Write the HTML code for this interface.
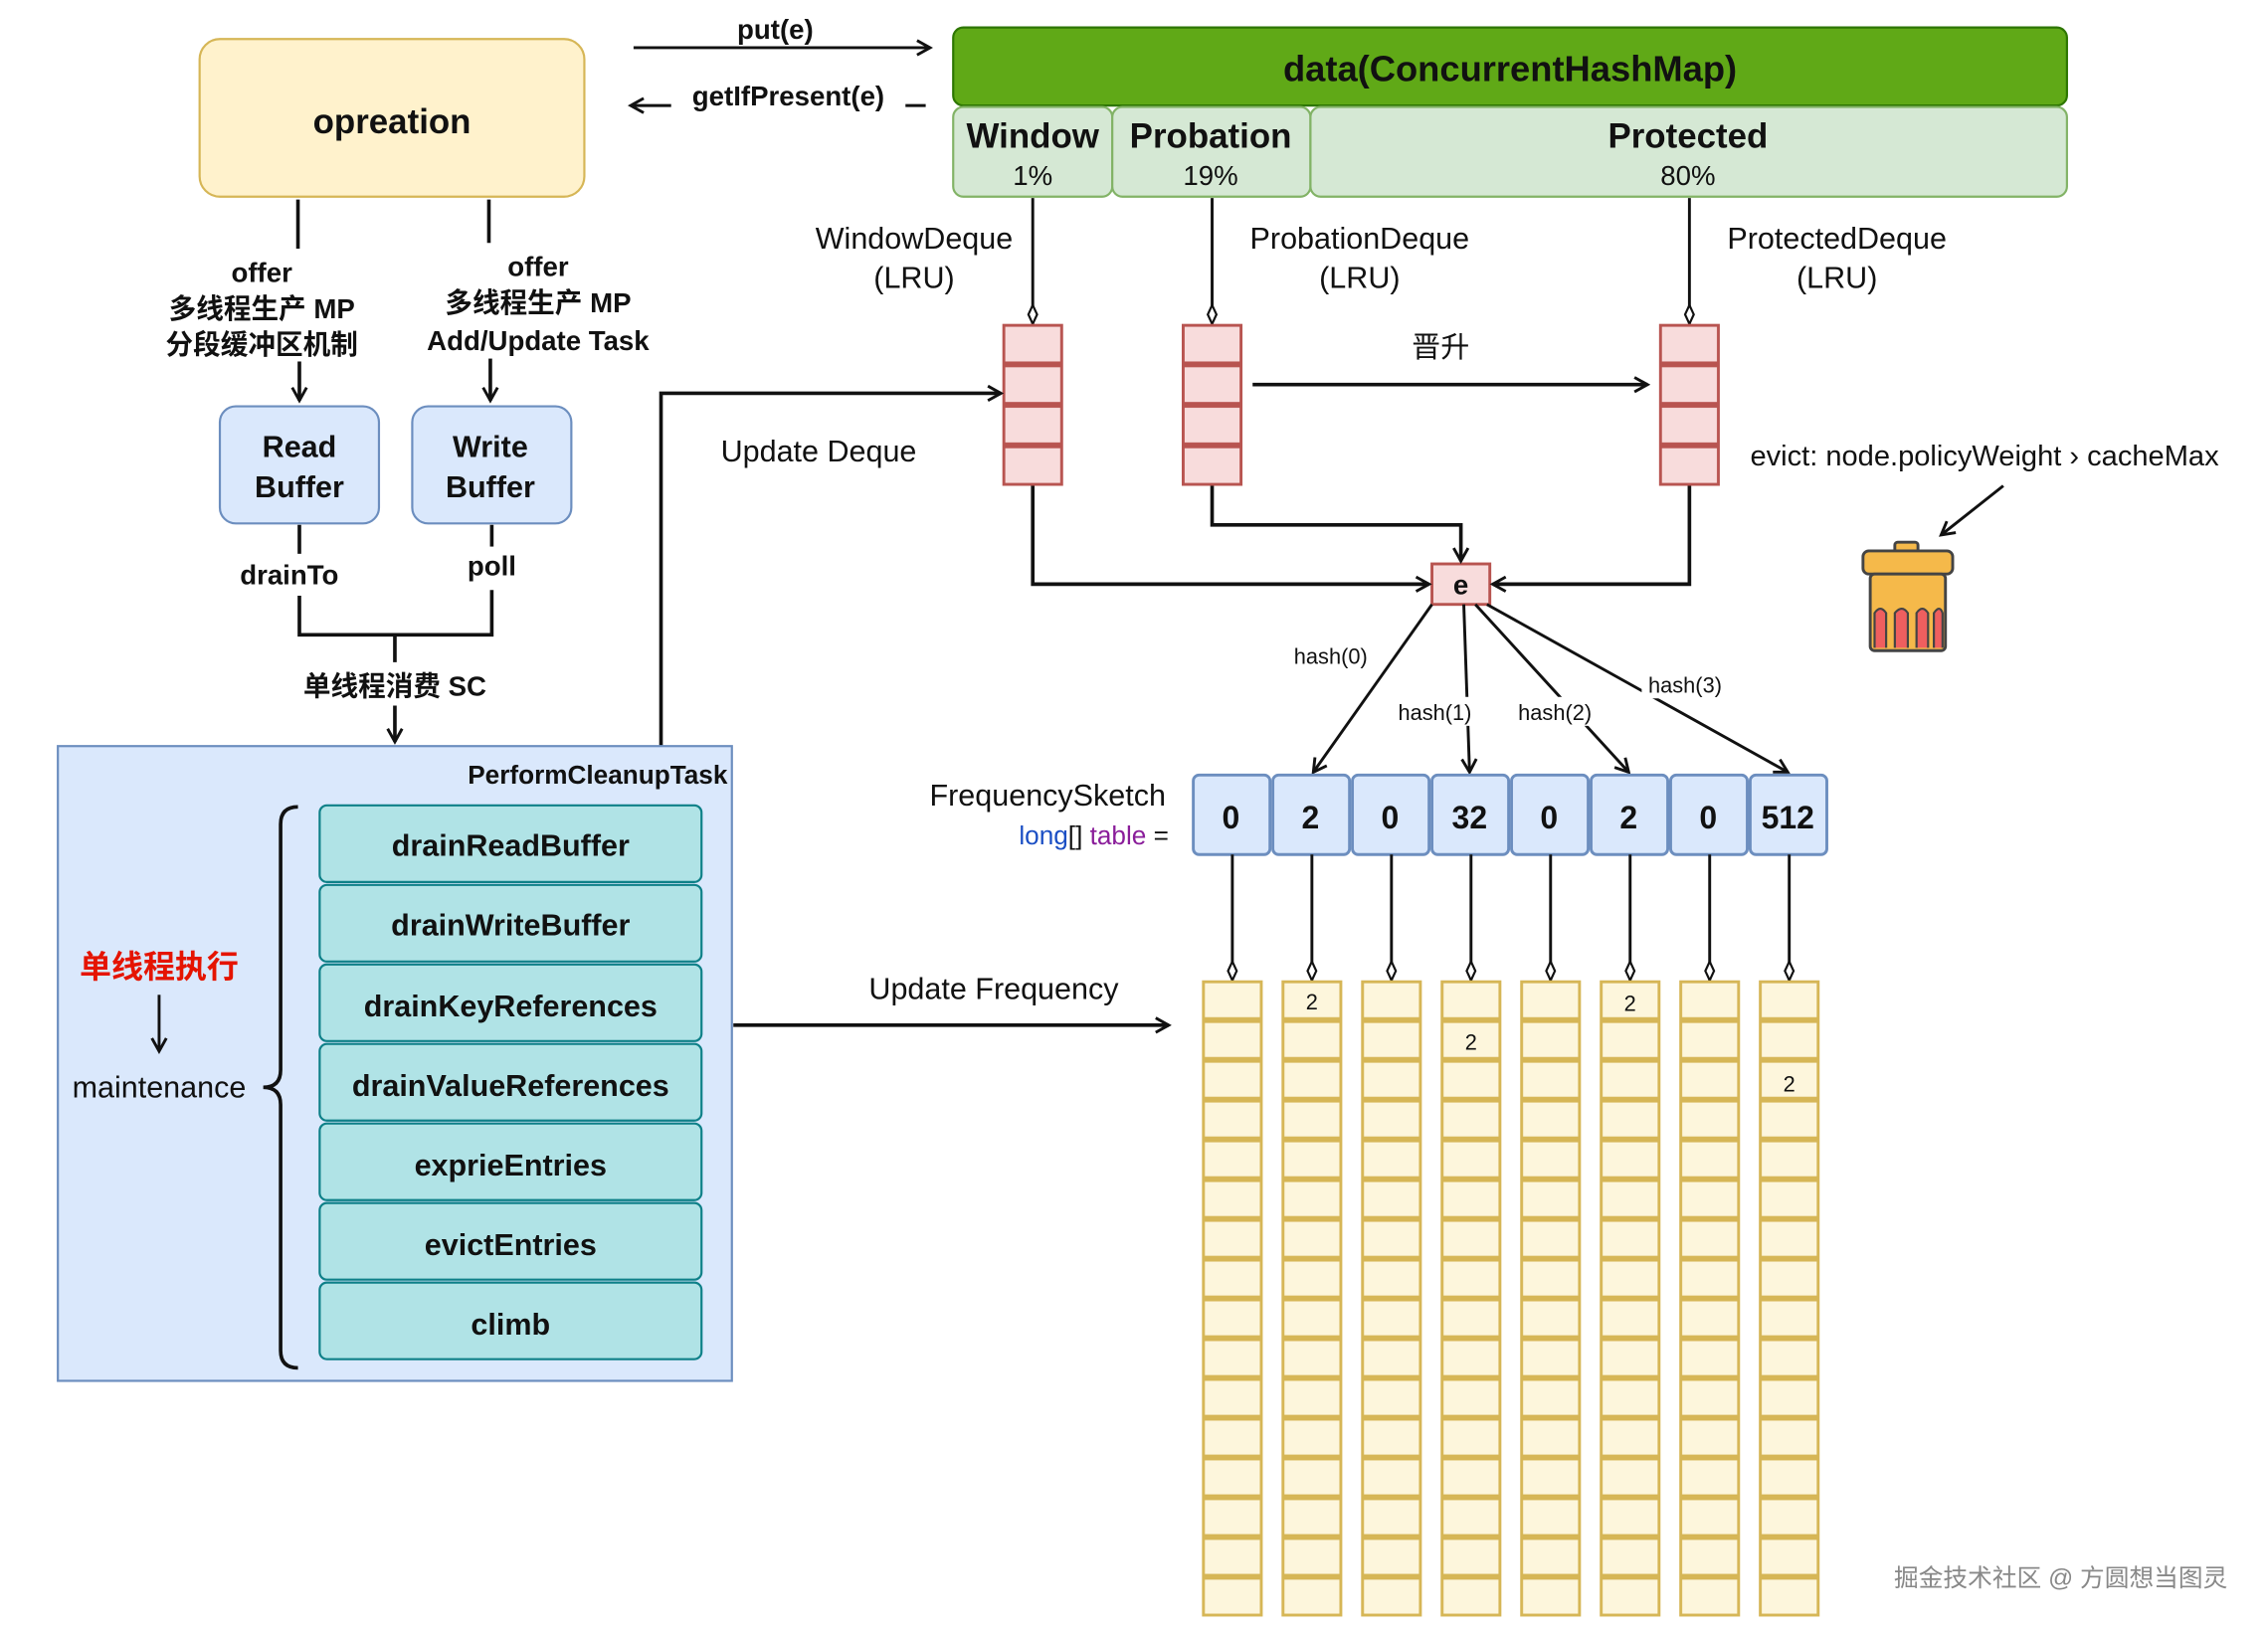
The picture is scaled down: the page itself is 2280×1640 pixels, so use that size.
<!DOCTYPE html>
<html><head><meta charset="utf-8"><style>
html,body{margin:0;padding:0;background:#fff}
svg{display:block}
text{font-family:"Liberation Sans","Noto Sans CJK SC",sans-serif;fill:#111}
.b{font-weight:bold}
</style></head><body>
<svg width="2280" height="1640" viewBox="0 0 1568 1128" preserveAspectRatio="none" xmlns="http://www.w3.org/2000/svg">
<defs>
<marker id="a" markerWidth="12" markerHeight="12" refX="10" refY="6" orient="auto" markerUnits="userSpaceOnUse"><path d="M1,1 L10,6 L1,11" fill="none" stroke="#111" stroke-width="2"/></marker>
<marker id="d" markerWidth="15" markerHeight="9" refX="14" refY="4.5" orient="auto" markerUnits="userSpaceOnUse"><path d="M1,4.5 L7.5,1.5 L14,4.5 L7.5,7.5Z" fill="#fff" stroke="#111" stroke-width="1.5"/></marker>
<pattern id="yg" x="0" y="0" width="42" height="27.5" patternUnits="userSpaceOnUse"><rect x="1" y="1" width="40" height="25.5" fill="#fdf6dc" stroke="#d6b656" stroke-width="2"/></pattern>
<pattern id="rg" x="0" y="0" width="42" height="28" patternUnits="userSpaceOnUse"><rect x="1" y="1" width="40" height="26" fill="#f8dcdc" stroke="#b85450" stroke-width="2"/></pattern>
</defs>

<rect x="138" y="27" width="266" height="109" rx="14" fill="#fff2cc" stroke="#d6b656" stroke-width="1.5"/>
<text x="271" y="92" font-size="24" text-anchor="middle" class="b">opreation</text>

<line x1="438" y1="33" x2="643" y2="33" stroke="#111" stroke-width="2" marker-end="url(#a)"/>
<text x="536" y="27" font-size="19" text-anchor="middle" class="b">put(e)</text>
<line x1="640" y1="73" x2="436" y2="73" stroke="#111" stroke-width="2" marker-end="url(#a)"/>
<rect x="464" y="55" width="162" height="20" fill="#fff"/>
<text x="545" y="73" font-size="19" text-anchor="middle" class="b">getIfPresent(e)</text>

<rect x="659" y="19" width="770" height="54" rx="7" fill="#60a917" stroke="#2d7600" stroke-width="1.5"/>
<text x="1044" y="56" font-size="25" text-anchor="middle" class="b">data(ConcurrentHashMap)</text>
<rect x="659" y="74" width="110" height="62" rx="7" fill="#d5e8d4" stroke="#82b366" stroke-width="1.5"/>
<rect x="769" y="74" width="137" height="62" rx="7" fill="#d5e8d4" stroke="#82b366" stroke-width="1.5"/>
<rect x="906" y="74" width="523" height="62" rx="7" fill="#d5e8d4" stroke="#82b366" stroke-width="1.5"/>
<text x="714" y="102" font-size="24" text-anchor="middle" class="b">Window</text>
<text x="714" y="128" font-size="19" text-anchor="middle">1%</text>
<text x="837" y="102" font-size="24" text-anchor="middle" class="b">Probation</text>
<text x="837" y="128" font-size="19" text-anchor="middle">19%</text>
<text x="1167" y="102" font-size="24" text-anchor="middle" class="b">Protected</text>
<text x="1167" y="128" font-size="19" text-anchor="middle">80%</text>

<text x="632" y="172" font-size="21" text-anchor="middle">WindowDeque</text>
<text x="632" y="199" font-size="21" text-anchor="middle">(LRU)</text>
<text x="940" y="172" font-size="21" text-anchor="middle">ProbationDeque</text>
<text x="940" y="199" font-size="21" text-anchor="middle">(LRU)</text>
<text x="1270" y="172" font-size="21" text-anchor="middle">ProtectedDeque</text>
<text x="1270" y="199" font-size="21" text-anchor="middle">(LRU)</text>

<line x1="714" y1="137" x2="714" y2="224" stroke="#111" stroke-width="2" marker-end="url(#d)"/>
<line x1="838" y1="137" x2="838" y2="224" stroke="#111" stroke-width="2" marker-end="url(#d)"/>
<line x1="1168" y1="137" x2="1168" y2="224" stroke="#111" stroke-width="2" marker-end="url(#d)"/>

<g transform="translate(693,224)"><rect width="42" height="112" fill="url(#rg)"/></g>
<g transform="translate(817,224)"><rect width="42" height="112" fill="url(#rg)"/></g>
<g transform="translate(1147,224)"><rect width="42" height="112" fill="url(#rg)"/></g>

<text x="996" y="247" font-size="20" text-anchor="middle">晋升</text>
<line x1="866" y1="266" x2="1139" y2="266" stroke="#111" stroke-width="2.5" marker-end="url(#a)"/>

<text x="1210" y="322" font-size="20">evict: node.policyWeight › cacheMax</text>
<line x1="1385" y1="336" x2="1342" y2="370" stroke="#111" stroke-width="2" marker-end="url(#a)"/>
<rect x="1310" y="375" width="16" height="8" rx="2" fill="#f5b94a" stroke="#444" stroke-width="2"/>
<rect x="1288" y="381" width="62" height="16" rx="4" fill="#f5b94a" stroke="#444" stroke-width="2"/>
<rect x="1293" y="397" width="52" height="53" rx="3" fill="#f5b94a" stroke="#444" stroke-width="2"/>
<path d="M1296,448 V424 q4,-6 8,0 V448 M1310,448 V424 q5,-6 9,0 V448 M1325,448 V424 q4,-6 8,0 V448 M1337,448 V424 q4,-6 6,0 V448" fill="#ef5f5f" stroke="#444" stroke-width="1.5"/>

<rect x="990" y="390" width="40" height="28" fill="#f8dcdc" stroke="#b85450" stroke-width="2"/>
<text x="1010" y="411" font-size="19" text-anchor="middle" class="b">e</text>
<polyline points="714,336 714,404 988,404" fill="none" stroke="#111" stroke-width="2.5" marker-end="url(#a)"/>
<polyline points="838,336 838,363 1010,363 1010,388" fill="none" stroke="#111" stroke-width="2.5" marker-end="url(#a)"/>
<polyline points="1168,336 1168,404 1032,404" fill="none" stroke="#111" stroke-width="2.5" marker-end="url(#a)"/>

<polyline points="457,516 457,272 692,272" fill="none" stroke="#111" stroke-width="2.5" marker-end="url(#a)"/>
<text x="566" y="319" font-size="21" text-anchor="middle">Update Deque</text>

<line x1="990" y1="418" x2="908" y2="534" stroke="#111" stroke-width="2" marker-end="url(#a)"/>
<line x1="1012" y1="418" x2="1016" y2="534" stroke="#111" stroke-width="2" marker-end="url(#a)"/>
<line x1="1020" y1="418" x2="1126" y2="534" stroke="#111" stroke-width="2" marker-end="url(#a)"/>
<line x1="1028" y1="418" x2="1236" y2="534" stroke="#111" stroke-width="2" marker-end="url(#a)"/>
<rect x="960" y="482" width="64" height="20" fill="#fff"/>
<rect x="1044" y="482" width="62" height="20" fill="#fff"/>
<rect x="1135" y="463" width="60" height="20" fill="#fff"/>
<text x="920" y="459" font-size="15" text-anchor="middle">hash(0)</text>
<text x="992" y="498" font-size="15" text-anchor="middle">hash(1)</text>
<text x="1075" y="498" font-size="15" text-anchor="middle">hash(2)</text>
<text x="1165" y="479" font-size="15" text-anchor="middle">hash(3)</text>

<text x="806" y="557" font-size="21" text-anchor="end">FrequencySketch</text>
<text x="808" y="584" font-size="18" text-anchor="end" font-family="Liberation Mono,monospace"><tspan fill="#1b4fc4">long</tspan>[] <tspan fill="#8a1d9a">table</tspan> =</text>
<g fill="#dae8fc" stroke="#6c8ebf" stroke-width="2">
<rect x="825" y="536" width="53" height="55" rx="4"/><rect x="880" y="536" width="53" height="55" rx="4"/><rect x="935" y="536" width="53" height="55" rx="4"/><rect x="990" y="536" width="53" height="55" rx="4"/><rect x="1045" y="536" width="53" height="55" rx="4"/><rect x="1100" y="536" width="53" height="55" rx="4"/><rect x="1155" y="536" width="53" height="55" rx="4"/><rect x="1210" y="536" width="53" height="55" rx="4"/>
</g>
<g font-size="22" text-anchor="middle">
<text x="851" y="573" class="b">0</text><text x="906" y="573" class="b">2</text><text x="961" y="573" class="b">0</text><text x="1016" y="573" class="b">32</text><text x="1071" y="573" class="b">0</text><text x="1126" y="573" class="b">2</text><text x="1181" y="573" class="b">0</text><text x="1236" y="573" class="b">512</text>
</g>
<g stroke="#111" stroke-width="2">
<line x1="852" y1="591" x2="852" y2="678" marker-end="url(#d)"/><line x1="907" y1="591" x2="907" y2="678" marker-end="url(#d)"/><line x1="962" y1="591" x2="962" y2="678" marker-end="url(#d)"/><line x1="1017" y1="591" x2="1017" y2="678" marker-end="url(#d)"/><line x1="1072" y1="591" x2="1072" y2="678" marker-end="url(#d)"/><line x1="1127" y1="591" x2="1127" y2="678" marker-end="url(#d)"/><line x1="1182" y1="591" x2="1182" y2="678" marker-end="url(#d)"/><line x1="1237" y1="591" x2="1237" y2="678" marker-end="url(#d)"/>
</g>
<g transform="translate(831,678)"><rect width="42" height="440" fill="url(#yg)"/></g>
<g transform="translate(886,678)"><rect width="42" height="440" fill="url(#yg)"/></g>
<g transform="translate(941,678)"><rect width="42" height="440" fill="url(#yg)"/></g>
<g transform="translate(996,678)"><rect width="42" height="440" fill="url(#yg)"/></g>
<g transform="translate(1051,678)"><rect width="42" height="440" fill="url(#yg)"/></g>
<g transform="translate(1106,678)"><rect width="42" height="440" fill="url(#yg)"/></g>
<g transform="translate(1161,678)"><rect width="42" height="440" fill="url(#yg)"/></g>
<g transform="translate(1216,678)"><rect width="42" height="440" fill="url(#yg)"/></g>
<g font-size="15" text-anchor="middle">
<text x="907" y="698">2</text><text x="1017" y="726">2</text><text x="1127" y="699">2</text><text x="1237" y="755">2</text>
</g>
<line x1="507" y1="709" x2="808" y2="709" stroke="#111" stroke-width="2.5" marker-end="url(#a)"/>
<text x="687" y="691" font-size="21" text-anchor="middle">Update Frequency</text>

<line x1="206" y1="138" x2="206" y2="172" stroke="#111" stroke-width="2.5"/>
<line x1="338" y1="138" x2="338" y2="168" stroke="#111" stroke-width="2.5"/>
<g font-size="19" text-anchor="middle">
<text x="181" y="195" class="b">offer</text>
<text x="181" y="220" class="b">多线程生产 MP</text>
<text x="181" y="245" class="b">分段缓冲区机制</text>
<text x="372" y="191" class="b">offer</text>
<text x="372" y="216" class="b">多线程生产 MP</text>
<text x="372" y="242" class="b">Add/Update Task</text>
</g>
<line x1="207" y1="250" x2="207" y2="277" stroke="#111" stroke-width="2.5" marker-end="url(#a)"/>
<line x1="339" y1="248" x2="339" y2="277" stroke="#111" stroke-width="2.5" marker-end="url(#a)"/>
<rect x="152" y="281" width="110" height="81" rx="11" fill="#dae8fc" stroke="#6c8ebf" stroke-width="1.5"/>
<rect x="285" y="281" width="110" height="81" rx="11" fill="#dae8fc" stroke="#6c8ebf" stroke-width="1.5"/>
<text x="207" y="316" font-size="21" text-anchor="middle" class="b">Read</text>
<text x="207" y="344" font-size="21" text-anchor="middle" class="b">Buffer</text>
<text x="339" y="316" font-size="21" text-anchor="middle" class="b">Write</text>
<text x="339" y="344" font-size="21" text-anchor="middle" class="b">Buffer</text>
<line x1="207" y1="363" x2="207" y2="383" stroke="#111" stroke-width="2.5"/>
<line x1="340" y1="363" x2="340" y2="378" stroke="#111" stroke-width="2.5"/>
<text x="200" y="404" font-size="19" text-anchor="middle" class="b">drainTo</text>
<text x="340" y="398" font-size="19" text-anchor="middle" class="b">poll</text>
<polyline points="207,412 207,439 340,439 340,408" fill="none" stroke="#111" stroke-width="2.5"/>
<line x1="273" y1="439" x2="273" y2="458" stroke="#111" stroke-width="2.5"/>
<text x="273" y="481" font-size="19" text-anchor="middle" class="b">单线程消费 SC</text>
<line x1="273" y1="488" x2="273" y2="513" stroke="#111" stroke-width="2.5" marker-end="url(#a)"/>

<rect x="40" y="516" width="466" height="439" fill="#dae8fc" stroke="#6c8ebf" stroke-width="1.5"/>
<text x="503" y="542" font-size="18" text-anchor="end" class="b">PerformCleanupTask</text>
<g fill="#b0e3e6" stroke="#0e8088" stroke-width="1.5">
<rect x="221" y="557" width="264" height="53" rx="5"/><rect x="221" y="612" width="264" height="53" rx="5"/><rect x="221" y="667" width="264" height="53" rx="5"/><rect x="221" y="722" width="264" height="53" rx="5"/><rect x="221" y="777" width="264" height="53" rx="5"/><rect x="221" y="832" width="264" height="53" rx="5"/><rect x="221" y="887" width="264" height="53" rx="5"/>
</g>
<g font-size="21" text-anchor="middle">
<text x="353" y="592" class="b">drainReadBuffer</text>
<text x="353" y="647" class="b">drainWriteBuffer</text>
<text x="353" y="703" class="b">drainKeyReferences</text>
<text x="353" y="758" class="b">drainValueReferences</text>
<text x="353" y="813" class="b">exprieEntries</text>
<text x="353" y="868" class="b">evictEntries</text>
<text x="353" y="923" class="b">climb</text>
</g>
<path d="M206,558 Q194,558 194,570 L194,740 Q194,752 182,752 Q194,752 194,764 L194,934 Q194,946 206,946" fill="none" stroke="#111" stroke-width="2.5"/>
<text x="110" y="676" font-size="22" text-anchor="middle" class="b" style="fill:#e51400">单线程执行</text>
<line x1="110" y1="688" x2="110" y2="727" stroke="#111" stroke-width="2" marker-end="url(#a)"/>
<text x="110" y="759" font-size="21" text-anchor="middle">maintenance</text>

<text x="1540" y="1097" font-size="17" text-anchor="end" style="fill:#888">掘金技术社区 @ 方圆想当图灵</text>
</svg>
</body></html>
